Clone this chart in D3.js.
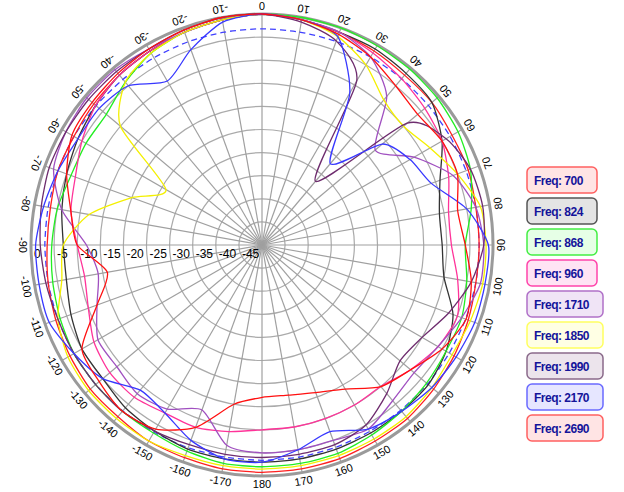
<!DOCTYPE html>
<html>
<head>
<meta charset="utf-8">
<script src="https://cdn.jsdelivr.net/npm/d3@7"></script>
<style>
  body { margin: 0; background: #fff; }
  svg { font-family: Arial, "Liberation Sans", sans-serif; }
</style>
</head>
<body>
<svg id="chart" width="624" height="492"></svg>
<script>
// angles every 10 degrees, 0 at top, clockwise (350 == -10)
const ANGLES = d3.range(0, 360, 10);
const DB_TICKS = [0, -5, -10, -15, -20, -25, -30, -35, -40, -45];
const ANGLE_LABELS = ANGLES.map(a => a <= 180 ? String(a) : String(a - 360));

const freqs = ["700", "824", "868", "960", "1710", "1850", "1990", "2170", "2690"];
const strokeColors = ["#ff2020", "#333333", "#22ee22", "#ff3399", "#a050c0", "#f4f000", "#6e2c6e", "#3838ff", "#ff1010"];
const boxStroke = ["#ff6060", "#555555", "#44ee44", "#ff44aa", "#b070c8", "#ffff60", "#8a6a8a", "#6a6aff", "#ff6060"];
const boxFill = ["#ffe4e4", "#e4e4e4", "#e6ffe6", "#ffe4f4", "#f0e4f6", "#ffffe4", "#ece4ec", "#e6e6ff", "#ffe4e4"];

const gain700  = [0,-0.5,-1,-1.5,-2,-2,-2.5,-2.5,-3,-3,-3,-2.5,-2,-1.5,-1,-1,-0.8,-0.8,-0.8,-0.8,-1,-1,-1.5,-1.5,-2,-2.5,-3,-3.5,-3.5,-3,-3,-2.5,-2,-1.5,-1,-0.5];
const gain824  = [0,-0.5,-1,-1,-1.5,-2,-5,-9,-11,-11,-10,-6,-4,-3,-3,-3,-3,-3,-3,-3,-3,-3.5,-4,-5,-5,-6,-7,-7,-6,-5,-4,-3,-2,-1.5,-1,-0.5];
const gain868  = [0,0,0,-0.2,-0.3,-0.5,-1,-2,-4,-6,-5,-4,-4,-3.5,-3,-2.5,-2,-2,-2,-2,-2.5,-3,-3,-3,-3,-3.5,-4,-4.5,-5,-6,-6,-6,-4,-2,-1,-0.5];
const gain960  = [0,-0.5,-1,-2,-3,-4,-5,-7,-9,-9,-7,-5,-6,-8,-10,-10,-10,-10,-10,-9,-8,-8,-7,-7,-8,-10,-11,-10,-8,-7,-5,-3,-2,-1.5,-1,-0.5];
const gain1710 = [0,-0.5,-1,-3,-8,-18,-12,-6,-3,-2,-2,-4,-6,-7,-6,-4,-5,-5,-5,-6,-12,-9,-8,-9,-9,-12,-14,-12,-6,-2,-1,-0.5,-0.5,-1,-1,-0.5];
const gain1850 = [0,-0.5,-2,-5,-9,-10,-8,-5,-2,-1.5,-1.5,-2,-2.5,-2,-1.5,-1.5,-1.5,-1.5,-1.5,-1.5,-1.5,-1,-1,-1,-1.5,-3,-6,-7,-12,-20,-26,-10,-4,-2,-1,-0.5];
const gain1990 = [0,-1,-3,-9,-32,-9,-4,-2,-1.5,-2,-4,-7,-10,-11,-8,-5,-4,-4,-4,-4,-4,-3.5,-3,-3,-3,-3,-2.5,-2,-1.5,-1,-1,-1,-1,-1,-0.5,0];
const gain2170 = [0,-0.5,-2,-12,-27,-16,-13,-11,-5,-1,-1,-1,-1.5,-2,-3,-4,-7,-5,-3,-3,-5,-8,-9,-5,-3,-1,-1,-1,-2,-3,-4,-4,-5,-9,-5,-1];
const gain2690 = [0,-0.5,-1.5,-3,-5,-6,-5,-5,-7,-6,-4,-3,-5,-8,-10,-14,-16,-17,-17,-15,-8,-4,-3,-4,-5,-12,-16,-10,-8,-5,-2.5,-2,-1.5,-1,-0.5,0];
const gainRef  = [-3.2,-3.2,-3.1,-3,-3,-3,-3,-3,-3,-3,-3,-3.1,-3.2,-3.2,-3.3,-3.4,-3.4,-3.4,-3.4,-3.4,-3.3,-3.2,-3.1,-3,-3,-3,-3,-3,-3,-3,-3,-3.1,-3.2,-3.2,-3.2,-3.2];

const gains = [gain700, gain824, gain868, gain960, gain1710, gain1850, gain1990, gain2170, gain2690];

const svg = d3.select("#chart");
const cx = 262, cy = 245, R = 231;
const rScale = d3.scaleLinear().domain([-50, 0]).range([0, R]);
const toRad = a => a * Math.PI / 180;

const g = svg.append("g").attr("transform", `translate(${cx},${cy})`);

// rings
g.selectAll("circle.ring").data(DB_TICKS.slice(1)).enter().append("circle")
  .attr("r", d => rScale(d)).attr("fill", "none")
  .attr("stroke", "#aaaaaa").attr("stroke-width", 1.2);

// spokes
g.selectAll("line.spoke").data(ANGLES).enter().append("line")
  .attr("x1", 0).attr("y1", 0)
  .attr("x2", d => R * Math.sin(toRad(d)))
  .attr("y2", d => -R * Math.cos(toRad(d)))
  .attr("stroke", "#a0a0a0").attr("stroke-width", 1.2);

// outer ring
g.append("circle").attr("r", R).attr("fill", "none")
  .attr("stroke", "#9a9a9a").attr("stroke-width", 3);

// dB labels
g.selectAll("text.db").data(DB_TICKS).enter().append("text")
  .attr("x", d => -rScale(d) + 3).attr("y", 13)
  .attr("font-size", 12).attr("fill", "#000")
  .text(d => String(d));

// angle labels
g.selectAll("text.ang").data(ANGLES).enter().append("text")
  .attr("transform", d => `translate(${R * Math.sin(toRad(d))},${-R * Math.cos(toRad(d))}) rotate(${d + 180})`)
  .attr("y", 8.5).attr("dy", "0.35em")
  .attr("text-anchor", "middle").attr("font-size", 11).attr("fill", "#000")
  .text((d, i) => ANGLE_LABELS[i]);

const line = d3.lineRadial()
  .angle((d, i) => toRad(ANGLES[i]))
  .radius(d => rScale(d))
  .curve(d3.curveCardinalClosed.tension(0.3));

g.append("path").datum(gainRef).attr("d", line)
  .attr("fill", "none").attr("stroke", "#4040ff").attr("stroke-width", 1.3)
  .attr("stroke-dasharray", "6,4");

g.selectAll("path.series").data(gains).enter().append("path")
  .attr("d", line).attr("fill", "none")
  .attr("stroke", (d, i) => strokeColors[i]).attr("stroke-width", 1.3);

// legend
const legend = svg.append("g");
const item = legend.selectAll("g").data(freqs).enter().append("g")
  .attr("transform", (d, i) => `translate(527,${167 + i * 31})`);
item.append("rect")
  .attr("width", d => d.length > 3 ? 76 : 70).attr("height", 26)
  .attr("rx", 5).attr("ry", 5)
  .attr("fill", (d, i) => boxFill[i]).attr("stroke", (d, i) => boxStroke[i]).attr("stroke-width", 1.5);
item.append("text")
  .attr("x", 7).attr("y", 18)
  .attr("font-size", 12).attr("font-weight", "bold").attr("fill", "#14149a")
  .attr("letter-spacing", -0.5)
  .text(d => "Freq: " + d);
</script>
</body>
</html>
